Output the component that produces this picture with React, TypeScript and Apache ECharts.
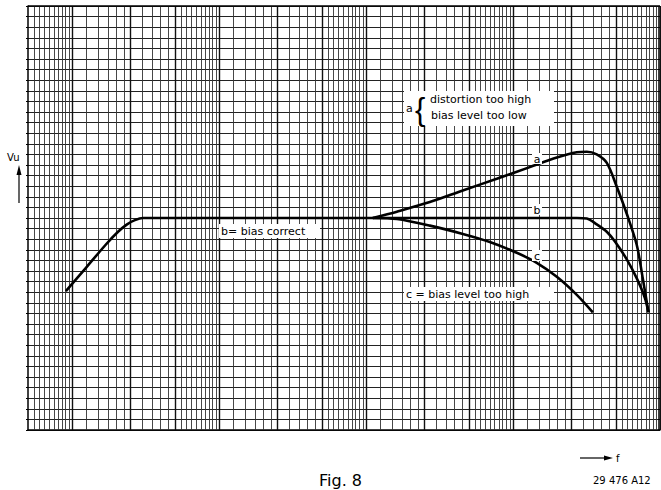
import React, { useEffect, useRef } from "react";
import * as echarts from "echarts";

// frequency axis (log, arbitrary units) and Vu axis (40 grid divisions)
const fMin = 1;
const fMax = 20000;
const vuMin = 0;
const vuMax = 40;

// graph-paper vertical rulings per decade
const decades = [1, 10, 100, 1000, 10000];
const rulingMultipliers = [1, 1.1, 1.2, 1.3, 1.4, 1.5, 1.6, 1.7, 1.8, 1.9, 2, 2.5, 3, 3.5, 4, 4.5, 5, 6, 7, 8, 9];
const heavyMultipliers = [1, 2, 5];

// curve b (with common low-frequency rise)
const bFreq = [1.81, 2.48, 3.39, 4.1, 4.72, 5.34, 6.06, 7.31, 222, 5428, 6348, 7424, 8685, 9845, 11880, 13900, 15750, 16700];
const bVu = [13.1, 15.3, 17.5, 18.7, 19.4, 19.8, 20.0, 20.0, 20.0, 20.0, 19.95, 19.4, 18.7, 17.8, 16.1, 14.3, 12.5, 11.1];

// curve a
const aFreq = [222, 324, 543, 910, 1550, 2600, 3970, 5430, 6350, 7420, 8690, 10160, 11880, 13900, 15270, 16700];
const aVu = [20.0, 20.6, 21.5, 22.6, 23.7, 24.8, 25.7, 26.2, 26.25, 26.0, 25.2, 22.95, 20.4, 17.45, 14.3, 11.1];

// curve c
const cFreq = [222, 324, 543, 910, 1390, 2120, 2900, 3970, 5430, 6980];
const cVu = [20.0, 19.9, 19.28, 18.5, 17.74, 16.72, 15.77, 14.45, 12.75, 11.1];

const FONT = "DejaVu Sans";

const pairs = (xs: number[], ys: number[]) => xs.map((x, i) => [x, ys[i]]);

export default function App() {
  const ref = useRef<HTMLDivElement>(null);
  useEffect(() => {
    if (!ref.current) return;
    const chart = echarts.init(ref.current, null, { renderer: "svg" });
    const rulings: any[] = [];
    decades.forEach((d) => {
      rulingMultipliers.forEach((m) => {
        const v = +(m * d).toPrecision(6);
        if (v > fMin && v <= fMax) {
          const heavy = heavyMultipliers.includes(m);
          rulings.push({
            xAxis: v,
            lineStyle: { color: heavy ? "#111" : "#333", width: heavy ? 1.4 : 0.9, type: "solid" },
          });
        }
      });
    });
    const curve = (name: string, data: number[][]) => ({
      name,
      type: "line",
      data,
      symbol: "none",
      smooth: 0.3,
      z: 5,
      lineStyle: { color: "#000", width: 2.6 },
      silent: true,
    });
    const lbl = (text: string, x: number, y: number, size = 11, extra: any = {}) => ({
      type: "text",
      x,
      y,
      z: 100,
      style: {
        text,
        fontFamily: FONT,
        fontSize: size,
        fill: "#000",
        ...extra,
      },
    });
    chart.setOption({
      animation: false,
      backgroundColor: "#fff",
      grid: { left: 28, top: 6, width: 632, height: 424, show: false },
      xAxis: {
        type: "log",
        min: fMin,
        max: fMax,
        logBase: 10,
        axisLine: { show: true, lineStyle: { color: "#000", width: 1.5 } },
        axisTick: { show: false },
        axisLabel: { show: false },
        splitLine: { show: false },
      },
      yAxis: {
        type: "value",
        min: vuMin,
        max: vuMax,
        interval: 1,
        axisLine: { show: true, lineStyle: { color: "#000", width: 1.5 } },
        axisTick: { show: true, length: 2, lineStyle: { color: "#000" } },
        axisLabel: { show: false },
        splitLine: { show: true, lineStyle: { color: "#222", width: 1 } },
      },
      series: [
        {
          name: "rulings",
          type: "line",
          data: [[fMin, vuMin]],
          symbol: "none",
          lineStyle: { opacity: 0 },
          silent: true,
          z: 1,
          markLine: {
            silent: true,
            symbol: ["none", "none"],
            label: { show: false },
            data: rulings,
          },
        },
        curve("b", pairs(bFreq, bVu)),
        curve("a", pairs(aFreq, aVu)),
        curve("c", pairs(cFreq, cVu)),
      ],
      graphic: [
        // right and top border
        { type: "line", z: 50, shape: { x1: 659, y1: 6, x2: 659, y2: 430 }, style: { stroke: "#000", lineWidth: 1.5 } },
        { type: "line", z: 50, shape: { x1: 28, y1: 6, x2: 660, y2: 6 }, style: { stroke: "#000", lineWidth: 1.5 } },
        // annotation boxes
        { type: "rect", z: 90, shape: { x: 219, y: 224, width: 101, height: 14 }, style: { fill: "#fff" } },
        { type: "rect", z: 90, shape: { x: 404, y: 91, width: 150, height: 35 }, style: { fill: "#fff" } },
        { type: "rect", z: 90, shape: { x: 404, y: 287, width: 150, height: 14 }, style: { fill: "#fff" } },
        { type: "rect", z: 90, shape: { x: 532, y: 153, width: 10, height: 11 }, style: { fill: "#fff" } },
        { type: "rect", z: 90, shape: { x: 532, y: 204, width: 10, height: 11 }, style: { fill: "#fff" } },
        { type: "rect", z: 90, shape: { x: 532, y: 250, width: 10, height: 11 }, style: { fill: "#fff" } },
        lbl("b= bias correct", 221, 231, 11, { verticalAlign: "middle" }),
        lbl("a", 406, 108, 11, { verticalAlign: "middle" }),
        lbl("{", 415, 109, 31, { verticalAlign: "middle", fontFamily: "Liberation Sans" }),
        lbl("distortion too high", 430, 99, 11, { verticalAlign: "middle" }),
        lbl("bias level too low", 431, 115, 11, { verticalAlign: "middle" }),
        lbl("a", 537, 159, 11, { verticalAlign: "middle", align: "center" }),
        lbl("b", 537, 210, 11, { verticalAlign: "middle", align: "center" }),
        lbl("c", 537, 256, 11, { verticalAlign: "middle", align: "center" }),
        lbl("c = bias level too high", 406, 294, 11, { verticalAlign: "middle" }),
        // Vu axis marker
        lbl("Vu", 7, 157, 10, { verticalAlign: "middle" }),
        { type: "line", shape: { x1: 19, y1: 203, x2: 19, y2: 172 }, style: { stroke: "#000", lineWidth: 1.2 } },
        { type: "polygon", shape: { points: [[19, 165], [16.5, 175], [21.5, 175]] }, style: { fill: "#000" } },
        // f axis marker
        { type: "line", shape: { x1: 580, y1: 458, x2: 606, y2: 458 }, style: { stroke: "#000", lineWidth: 1.2 } },
        { type: "polygon", shape: { points: [[613, 458], [604, 455.5], [604, 460.5]] }, style: { fill: "#000" } },
        lbl("f", 616, 458, 10, { verticalAlign: "middle" }),
        lbl("29 476 A12", 593, 480, 10, { verticalAlign: "middle" }),
        lbl("Fig. 8", 319, 472, 16, { verticalAlign: "top" }),
      ],
    });
    return () => chart.dispose();
  }, []);
  return <div ref={ref} style={{ position: "fixed", left: 0, top: 0, width: 661, height: 490 }} />;
}
